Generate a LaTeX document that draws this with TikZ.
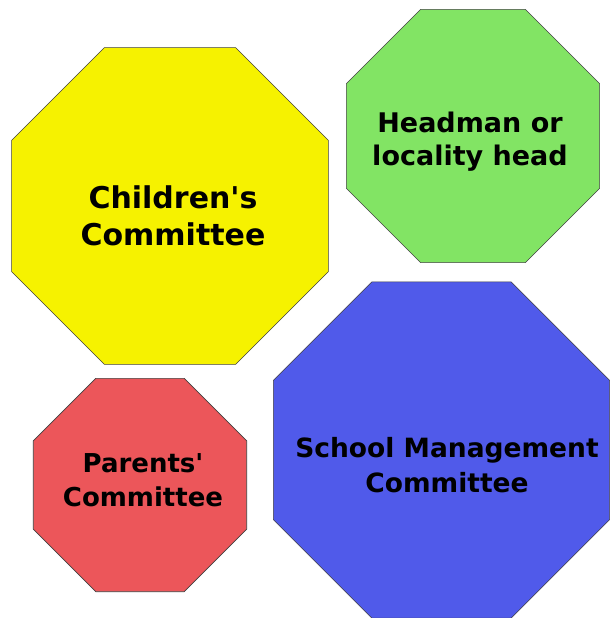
\documentclass[tikz,border=0pt]{standalone}
\usepackage{fontspec}
\setmainfont{DejaVu Sans}[Ligatures=TeXOff]
\usetikzlibrary{shapes.geometric}
\definecolor{octyellow}{RGB}{246,242,0}
\definecolor{octgreen}{RGB}{130,228,100}
\definecolor{octred}{RGB}{236,86,90}
\definecolor{octblue}{RGB}{80,90,234}
\begin{document}
\begin{tikzpicture}[x=1pt,y=-1pt,
    oct/.style={regular polygon, regular polygon sides=8, draw=black!75, line width=0.6pt, inner sep=0pt, outer sep=0pt},
    lbl/.style={align=center, text=black, inner sep=0pt}]
    \useasboundingbox (0,0) rectangle (610,618);
    \node[oct, fill=octyellow, minimum size=343pt] (children) at (170,206) {};
    \node[oct, fill=octgreen, minimum size=274pt] (headman) at (473,136) {};
    \node[oct, fill=octred, minimum size=231pt] (parents) at (140,485) {};
    \node[oct, fill=octblue, minimum size=364pt] (smc) at (441.5,450) {};
    \node[lbl, font=\bfseries\fontsize{30}{37}\selectfont] (children-txt) at ([shift={(3,10)}]children.center) {Children's\\Committee};
    \node[lbl, font=\bfseries\fontsize{27}{33}\selectfont] (headman-txt) at ([shift={(-3,6)}]headman.center) {Headman or\\locality head};
    \node[lbl, font=\bfseries\fontsize{26}{34}\selectfont] (parents-txt) at ([shift={(3,-5)}]parents.center) {Parents'\\Committee};
    \node[lbl, font=\bfseries\fontsize{26.5}{35}\selectfont] (smc-txt) at ([shift={(5.5,15)}]smc.center) {School Management\\Committee};
\end{tikzpicture}
\end{document}
